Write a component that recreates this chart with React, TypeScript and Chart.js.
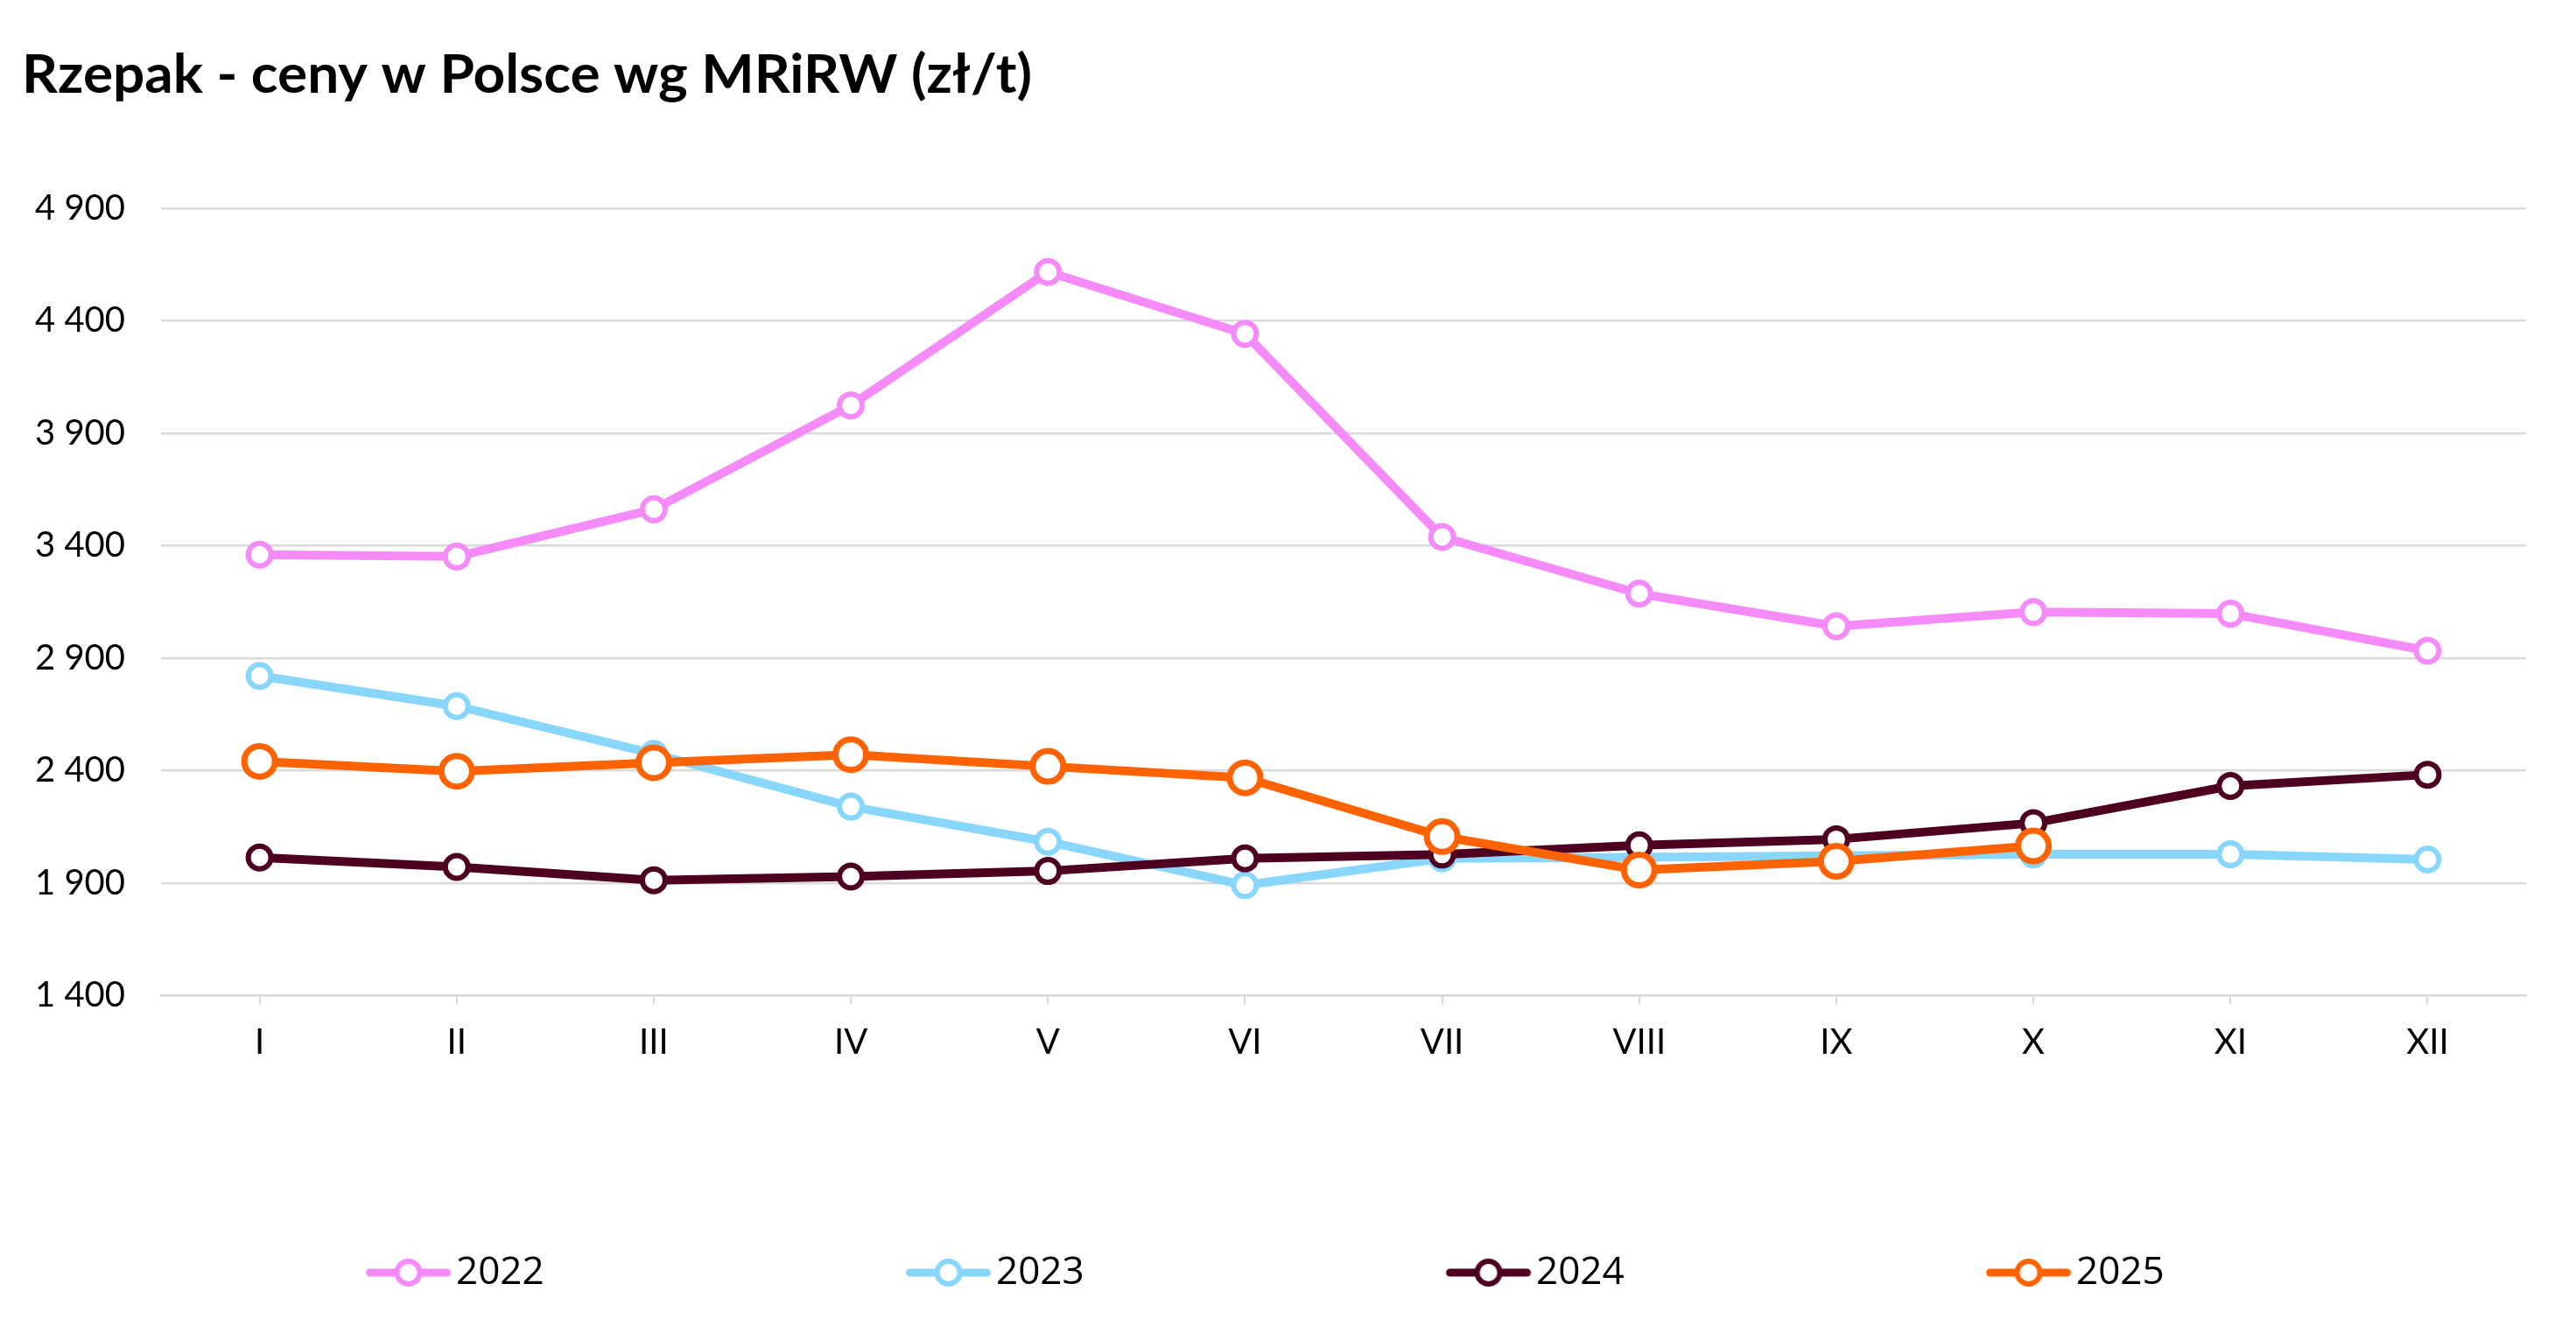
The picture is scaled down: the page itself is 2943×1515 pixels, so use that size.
import React, { useEffect, useRef } from 'react';
import { Chart, registerables } from 'chart.js';

Chart.register(...registerables);

const TITLE = 'Rzepak - ceny w Polsce wg MRiRW (zł/t)';
const MONTHS = ['I', 'II', 'III', 'IV', 'V', 'VI', 'VII', 'VIII', 'IX', 'X', 'XI', 'XII'];
const SERIES_NAMES = ['2022', '2023', '2024', '2025'];
const Y_MIN = 1400;
const Y_MAX = 4900;
const Y_STEP = 500;

const PRICES_2022 = [3360, 3352, 3562, 4024, 4617, 4342, 3439, 3187, 3042, 3105, 3098, 2933];
const PRICES_2023 = [2821, 2687, 2475, 2240, 2084, 1891, 2010, 2015, 2022, 2028, 2028, 2005];
const PRICES_2024 = [2014, 1972, 1913, 1929, 1954, 2010, 2027, 2068, 2095, 2167, 2332, 2382];
const PRICES_2025 = [2441, 2397, 2435, 2471, 2419, 2368, 2107, 1958, 1997, 2065, null, null];

const COLORS = ['#F58BF8', '#89D6FD', '#4D0020', '#FF6200'];

const W = 2943;
const H = 1515;

function fmt(v: number): string {
  const th = Math.floor(v / 1000);
  const rest = String(v % 1000).padStart(3, '0');
  return th > 0 ? `${th} ${rest}` : String(v);
}

function makeLegendImage(color: string, iw: number, ih: number, lineEndX: number) {
  const c = document.createElement('canvas');
  c.width = iw;
  c.height = ih;
  const g = c.getContext('2d')!;
  const cy = ih / 2;
  g.strokeStyle = color;
  g.lineWidth = 9;
  g.lineCap = 'round';
  g.beginPath();
  g.moveTo(lineEndX - 97 + 4.5, cy);
  g.lineTo(lineEndX - 4.5, cy);
  g.stroke();
  g.beginPath();
  g.arc(lineEndX - 48.5, cy, 13, 0, Math.PI * 2);
  g.fillStyle = '#ffffff';
  g.fill();
  g.lineWidth = 6;
  g.stroke();
  return c;
}

export default function App() {
  const ref = useRef<HTMLCanvasElement>(null);

  useEffect(() => {
    const canvas = ref.current;
    if (!canvas) return;

    const LEGEND_FONT = 44;
    const mctx = document.createElement('canvas').getContext('2d')!;
    mctx.font = `${LEGEND_FONT}px "Open Sans"`;
    const textW = mctx.measureText('2022').width;

    const SPACING = 617;
    const LEG_PAD = 217;
    const padLeft = textW - 96;
    const boxW = SPACING - LEGEND_FONT / 2 - textW - LEG_PAD;
    const iw = 2 * Math.ceil(boxW / 2 + 20);
    const ih = 40;
    const lineEndX = boxW / 2 + 16 + iw / 2;
    const images = COLORS.map((c) => makeLegendImage(c, iw, ih, lineEndX));

    const titlePlugin = {
      id: 'customTitle',
      afterDraw(chart: any) {
        const ctx = chart.ctx;
        ctx.save();
        ctx.font = 'bold 61px Lato';
        ctx.fillStyle = '#000000';
        ctx.textBaseline = 'alphabetic';
        ctx.textAlign = 'left';
        const tw = ctx.measureText(TITLE).width;
        ctx.translate(25, 106);
        ctx.scale(1154 / tw, 1);
        ctx.fillText(TITLE, 0, 0);
        ctx.restore();
      },
    };

    const seriesData = [PRICES_2022, PRICES_2023, PRICES_2024, PRICES_2025];
    const datasets = SERIES_NAMES.map((name, i) => ({
      label: name,
      data: seriesData[i],
      borderColor: COLORS[i],
      backgroundColor: COLORS[i],
      borderWidth: 10,
      borderJoinStyle: 'round' as const,
      borderCapStyle: 'round' as const,
      tension: 0,
      pointRadius: i === 3 ? 17.5 : 13,
      pointBorderWidth: i === 3 ? 7 : 6,
      pointBackgroundColor: '#ffffff',
      pointBorderColor: COLORS[i],
      pointHoverRadius: i === 3 ? 17.5 : 13,
      order: 4 - i,
      spanGaps: false,
    }));

    const chart = new Chart(canvas, {
      type: 'line',
      data: { labels: MONTHS, datasets },
      plugins: [titlePlugin],
      options: {
        animation: false,
        responsive: true,
        maintainAspectRatio: false,
        events: [],
        layout: {
          padding: { left: padLeft, right: 57, top: 238, bottom: 29 },
        },
        plugins: {
          title: { display: false },
          tooltip: { enabled: false },
          legend: {
            display: true,
            position: 'bottom',
            align: 'start',
            labels: {
              usePointStyle: true,
              pointStyleWidth: boxW,
              padding: LEG_PAD,
              color: '#000000',
              font: { family: '"Open Sans"', size: LEGEND_FONT },
              sort: (a: any, b: any) => a.datasetIndex - b.datasetIndex,
              generateLabels: (ch: any) => {
                const items = (Chart.defaults.plugins.legend.labels as any).generateLabels(ch);
                return items.map((it: any) => ({
                  ...it,
                  pointStyle: images[it.datasetIndex],
                  fontColor: '#000000',
                }));
              },
            },
          },
        },
        scales: {
          x: {
            type: 'category',
            offset: true,
            grid: {
              display: true,
              drawOnChartArea: false,
              drawTicks: true,
              tickLength: 10,
              color: '#d9d9d9',
              lineWidth: 2,
              offset: false,
            },
            border: { display: true, color: '#d9d9d9', width: 2.5 },
            ticks: {
              color: '#000000',
              padding: 19.5,
              maxRotation: 0,
              autoSkip: false,
              font: { family: 'Lato', size: 40 },
            },
            afterFit: (s: any) => {
              s.height = 77.5;
              s.paddingLeft = 0;
              s.paddingRight = 0;
            },
          },
          y: {
            type: 'linear',
            min: Y_MIN,
            max: Y_MAX,
            grid: {
              color: '#d9d9d9',
              lineWidth: 2.5,
              drawTicks: false,
            },
            border: { display: false },
            ticks: {
              stepSize: Y_STEP,
              color: '#000000',
              padding: 41,
              font: { family: 'Lato', size: 40 },
              callback: (v: any) => fmt(Number(v)),
            },
            afterFit: (s: any) => {
              s.width = 184 - padLeft;
              s.paddingTop = 0;
              s.paddingBottom = 0;
            },
          },
        },
      },
    });

    return () => chart.destroy();
  }, []);

  return (
    <div
      style={{
        position: 'fixed',
        left: 0,
        top: 0,
        width: W,
        height: H,
        background: '#ffffff',
      }}
    >
      <canvas ref={ref} />
    </div>
  );
}
